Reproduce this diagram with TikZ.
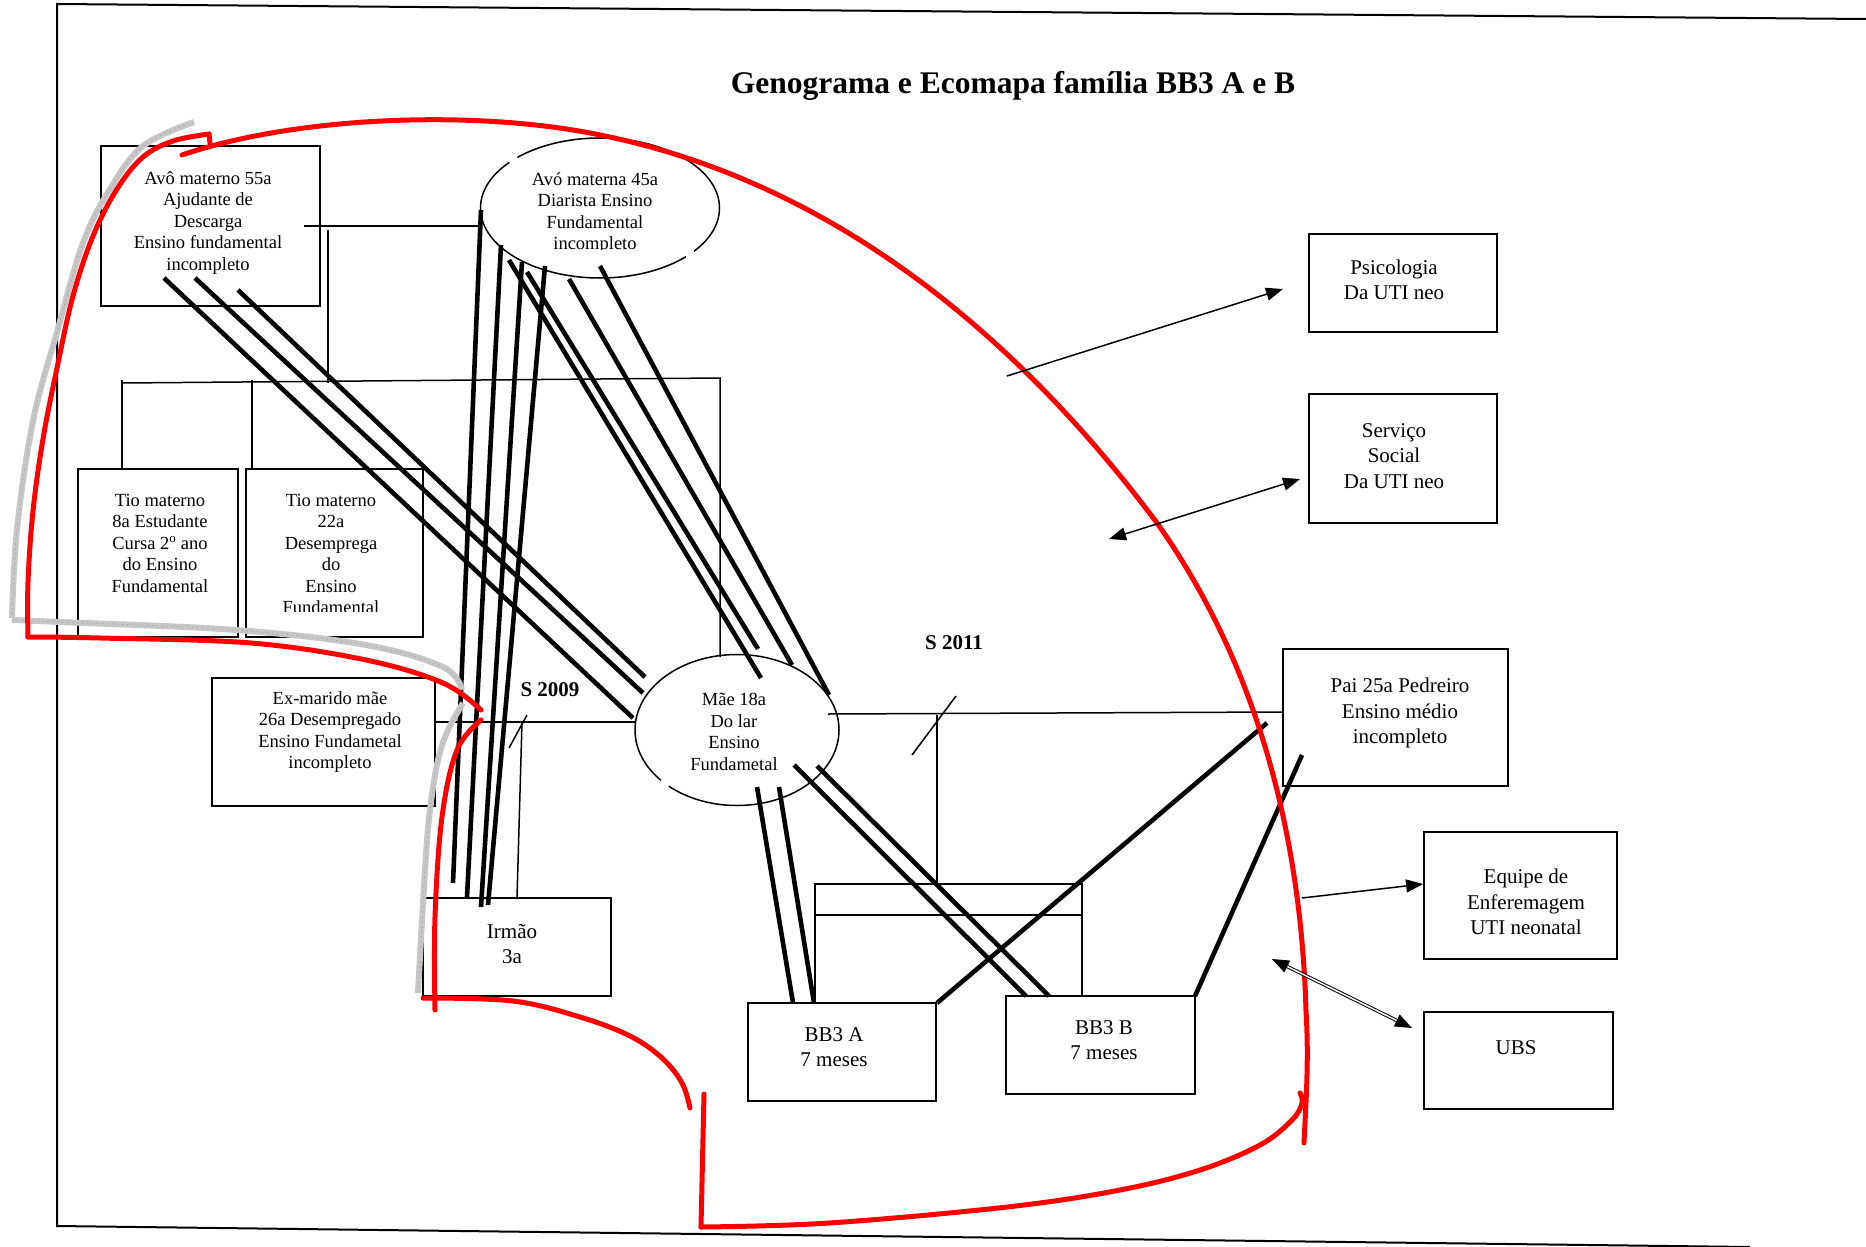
\documentclass[tikz,border=0pt]{standalone}
\usepackage{fontspec}
\setmainfont{Liberation Serif}
\usetikzlibrary{shapes.geometric,arrows.meta,fit}
\tikzset{
  bx/.style={draw, line width=1.8pt, inner sep=0pt},
  elp/.style={draw, ellipse, line width=1.5pt, inner sep=0pt},
  thinl/.style={line width=1.5pt},
  rel/.style={line width=4.6pt},
  redl/.style={red, line width=5pt, line cap=round, line join=round},
  greyl/.style={gray!45, line width=6pt, line join=round},
  greyd/.style={gray!70, line width=0.8pt, dash pattern=on 1.5pt off 3.5pt},
  lblS/.style={align=center, font=\fontsize{18.5}{21.5}\selectfont, inner sep=0pt},
  lblL/.style={align=center, font=\fontsize{21}{25.5}\selectfont, inner sep=0pt},
  lblB/.style={font=\fontsize{21}{25}\selectfont\bfseries, inner sep=0pt},
  arr/.style={line width=1.5pt, -{Triangle[length=17pt,width=13pt]}},
  darr/.style={line width=1.5pt, {Triangle[length=17pt,width=13pt]}-{Triangle[length=17pt,width=13pt]}},
}
\begin{document}
\begin{tikzpicture}[x=1pt,y=-1pt]
\useasboundingbox (0,0) rectangle (1866,1247);
\fill[white] (0,0) rectangle (1866,1247);
% frame
\draw[line width=2pt] (1866,19) -- (57,4) -- (57,1226) -- (1750,1247);
% title
\node[font=\fontsize{31.5}{36}\selectfont\bfseries, inner sep=0pt] (title) at (1013,86) {Genograma e Ecomapa família BB3 A e B};

% boxes
\node[bx, fit={(101,146) (320,306)}] (avo) {};
\node[elp, minimum width=239pt, minimum height=140pt] (avoa) at (600,208) {};
\node[bx, fit={(78,469) (238,637)}] (tio1) {};
\node[bx, fit={(246,469) (423,637)}] (tio2) {};
\node[bx, fit={(212,678) (435,806)}] (exm) {};
\node[elp, minimum width=204pt, minimum height=151pt] (mae) at (737,730) {};
\node[bx, fit={(423,898) (611,996)}] (irmao) {};
\node[bx, fit={(748,1003) (936,1101)}] (bba) {};
\node[bx, fit={(1006,996) (1195,1094)}] (bbb) {};
\node[bx, fit={(1283,649) (1508,786)}] (pai) {};
\node[bx, fit={(1309,234) (1497,332)}] (psi) {};
\node[bx, fit={(1309,394) (1497,523)}] (ss) {};
\node[bx, fit={(1424,832) (1617,959)}] (equipe) {};
\node[bx, fit={(1424,1012) (1613,1109)}] (ubs) {};

% gaps in ellipses
\fill[white] (513,159) circle (5pt);
\fill[white] (690,254) circle (5pt);
\fill[white] (665,783) circle (5pt);

% labels
\node[lblS] (tavo) at (208,223) {Avô materno 55a\\Ajudante de\\Descarga\\Ensino fundamental\\incompleto};
\begin{scope}
\clip (480,140) rectangle (720,249.5);
\node[lblS] (tavoa) at (595,213) {Avó materna 45a\\Diarista Ensino\\Fundamental\\incompleto};
\end{scope}
\node[lblS] (ttio1) at (160,543) {Tio materno\\8a Estudante\\Cursa 2\textsuperscript{o} ano\\do Ensino\\Fundamental};
\begin{scope}
\clip (250,470) rectangle (420,611);
\node[lblS] (ttio2) at (331,554) {Tio materno\\22a\\Desemprega\\do\\Ensino\\Fundamental};
\end{scope}
\node[lblS] (texm) at (330,732) {Ex-marido mãe\\26a Desempregado\\Ensino Fundametal\\incompleto};
\node[lblS] (tmae) at (734,732) {Mãe 18a\\Do lar\\Ensino\\Fundametal};
\node[lblL] (tirmao) at (512,944) {Irmão\\3a};
\node[lblL] (tbba) at (834,1047) {BB3 A\\7 meses};
\node[lblL] (tbbb) at (1104,1040) {BB3 B\\7 meses};
\node[lblL] (tpai) at (1400,713) {Pai 25a Pedreiro\\Ensino médio\\incompleto};
\node[lblL] (tpsi) at (1394,280) {Psicologia\\Da UTI neo};
\node[lblL] (tss) at (1394,456) {Serviço\\Social\\Da UTI neo};
\node[lblL] (tequipe) at (1526,902) {Equipe de\\Enferemagem\\UTI neonatal};
\node[lblL] (tubs) at (1516,1048) {UBS};
\node[lblB] (s2009) at (550,690) {S 2009};
\node[lblB] (s2011) at (954,643) {S 2011};

% thin genogram lines
\draw[thinl] (304,226) -- (avoa.west |- 0,226);
\draw[thinl] (328,230) -- (328,383);
\draw[thinl] (122,383) -- (720,378) -- (720,657);
\draw[thinl] (122,380) -- (tio1.north -| 122,0);
\draw[thinl] (252,380) -- (tio2.north -| 252,0);
\draw[thinl] (exm.east |- 0,722) -- (635,722);
\draw[thinl] (527,715) -- (509,748);
\draw[thinl] (522,722) -- (517,898);
\draw[thinl] (828,714) -- (pai.west |- 0,712);
\draw[thinl] (956,696) -- (912,755);
\draw[thinl] (937,715) -- (937,884);
\draw[thinl] (815,1003) -- (815,884) -- (1082,884) -- (1082,996);
\draw[thinl] (815,915) -- (1082,915);

% thick relation lines
\draw[rel] (164,278) -- (633,718);
\draw[rel] (195,278) -- (643,693);
\draw[rel] (238,290) -- (645,677);
\draw[rel] (481,210) -- (453,883);
\draw[rel] (501,245) -- (467,897);
\draw[rel] (522,262) -- (481,907);
\draw[rel] (545,266) -- (488,905);
\draw[rel] (509,260) -- (761,678);
\draw[rel] (527,272) -- (758,649);
\draw[rel] (569,279) -- (792,665);
\draw[rel] (600,266) -- (829,695);
\draw[rel] (757,787) -- (793,1003);
\draw[rel] (779,787) -- (814,1003);
\draw[rel] (794,765) -- (1026,996);
\draw[rel] (817,766) -- (1049,996);
\draw[rel] (937,1003) -- (1267,723);
\draw[rel] (1195,996) -- (1302,755);

% grey curves
\foreach \st in {greyl,greyd}{
\draw[\st] plot[smooth, tension=0.6] coordinates {(194,122) (143,146) (110,189) (83,243) (57,332) (33,421) (17,529) (12,618)};
\draw[\st] plot[smooth, tension=0.6] coordinates {(12,620) (60,622) (236,630) (366,645) (443,667) (462,690)};
\draw[\st] plot[smooth, tension=0.6] coordinates {(463,703) (448,730) (438,760) (430,810) (425,870) (418,993)};
}

% red curves
\draw[redl] (182,155) .. controls (300,115) and (480,110) .. (600,135)
  .. controls (800,175) and (990,300) .. (1157,523)
  .. controls (1240,640) and (1300,800) .. (1306,1011)
  .. controls (1309,1060) and (1306,1100) .. (1304,1143);
\draw[redl] (210,143) -- (209,134);
\draw[redl] plot[smooth, tension=0.6] coordinates {(209,134) (173,141) (143,157) (117,189) (93,236) (73,296) (57,368) (43,439) (33,511) (28,582) (28,637)};
\draw[redl] plot[smooth, tension=0.6] coordinates {(28,637) (100,638) (251,643) (366,660) (443,683) (481,710)};
\draw[redl] plot[smooth, tension=0.6] coordinates {(481,720) (457,750) (442,817) (435,917) (435,1010)};
\draw[redl] plot[smooth, tension=0.6] coordinates {(423,998) (513,1001) (580,1017) (630,1036) (662,1058) (682,1083) (690,1108)};
\draw[redl] (704,1094) -- (701,1227);
\draw[redl] plot[smooth, tension=0.6] coordinates {(701,1227) (829,1223) (1007,1207) (1120,1190) (1200,1170) (1260,1145) (1292,1120) (1302,1103) (1300,1093)};

% ecomap arrows
\draw[arr] (1007,376) -- (1283,289);
\draw[darr] (1109,539) -- (1300,479);
\draw[arr] (1302,898) -- (equipe.west |- 0,884);
\draw[darr, double, double distance=1.5pt, line width=1pt] (1272,959) -- (1412,1028);
\end{tikzpicture}
\end{document}
